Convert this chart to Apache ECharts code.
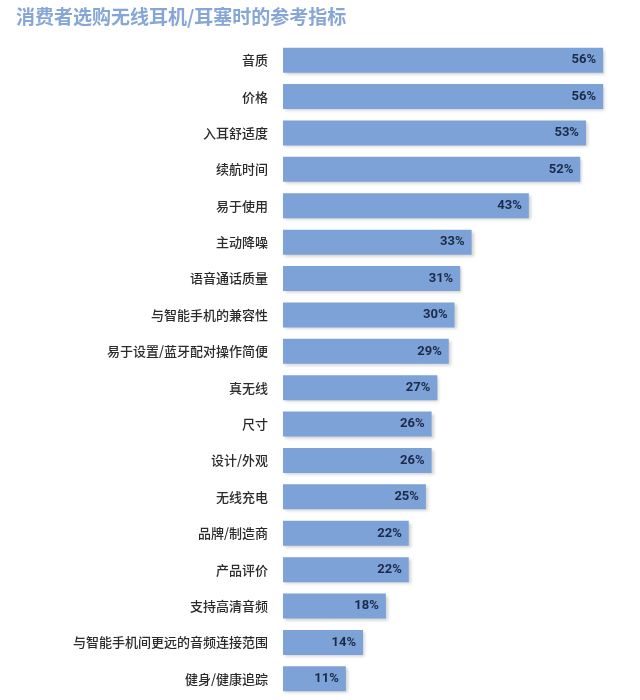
<!DOCTYPE html>
<html>
<head>
<meta charset="utf-8">
<script src="https://cdn.jsdelivr.net/npm/echarts@6/dist/echarts.min.js"></script>
<style>
  html, body { margin: 0; padding: 0; background: #fff; }
  #container { width: 640px; height: 700px; }
</style>
</head>
<body>
<div id="container"></div>
<script>
// 参考指标（从上到下）
var categories = ['音质', '价格', '入耳舒适度', '续航时间', '易于使用', '主动降噪', '语音通话质量',
	'与智能手机的兼容性', '易于设置/蓝牙配对操作简便', '真无线', '尺寸', '设计/外观', '无线充电',
	'品牌/制造商', '产品评价', '支持高清音频', '与智能手机间更远的音频连接范围', '健身/健康追踪'];
// 百分比
var values = [56, 56, 53, 52, 43, 33, 31, 30, 29, 27, 26, 26, 25, 22, 22, 18, 14, 11];

var myChart = echarts.init(document.getElementById('container'));
var option = {
	backgroundColor: '#fff',
	title: {
		text: '消费者选购无线耳机/耳塞时的参考指标',
		left: 11,
		top: 2,
		textStyle: {
			color: '#86a6d6',
			fontSize: 19,
			fontWeight: 'bold',
			fontFamily: 'Noto Sans CJK SC'
		}
	},
	grid: {
		left: 283,
		width: 343,
		top: 42,
		height: 655,
		containLabel: false
	},
	xAxis: {
		type: 'value',
		min: 0,
		max: 60,
		show: false
	},
	yAxis: {
		type: 'category',
		inverse: true,
		data: categories,
		axisLine: { show: false },
		axisTick: { show: false },
		splitLine: { show: false },
		axisLabel: {
			margin: 15,
			color: '#2b2b2b',
			fontSize: 13,
			fontWeight: 500,
			fontFamily: 'Noto Sans CJK SC'
		}
	},
	series: [{
		type: 'bar',
		data: values,
		barWidth: 25,
		itemStyle: {
			color: '#7da2d8',
			shadowColor: 'rgba(0,0,0,0.18)',
			shadowBlur: 3,
			shadowOffsetX: 2,
			shadowOffsetY: 2
		},
		label: {
			show: true,
			position: 'insideRight',
			offset: [-2, 0],
			formatter: '{c}%',
			color: '#1c2a48',
			fontSize: 13,
			fontWeight: 'bold',
			fontFamily: 'Roboto'
		}
	}]
};
myChart.setOption(option);
</script>
</body>
</html>
